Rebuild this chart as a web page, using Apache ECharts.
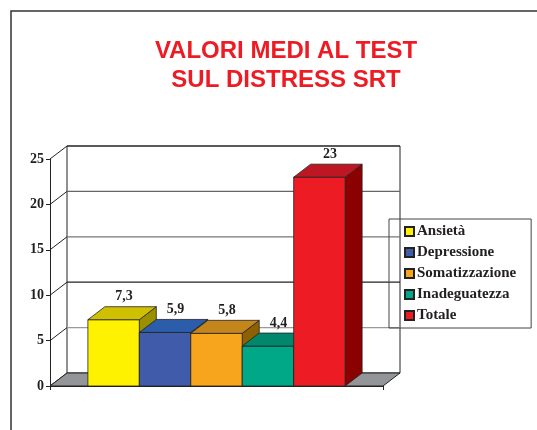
<!DOCTYPE html>
<html>
<head>
<meta charset="utf-8">
<script src="https://cdn.jsdelivr.net/npm/echarts@6/dist/echarts.min.js"></script>
<style>
html,body{margin:0;padding:0;background:#fff;}
#chart{width:537px;height:430px;}
</style>
</head>
<body>
<div id="chart"></div>
<script>
const categories = ['Ansietà', 'Depressione', 'Somatizzazione', 'Inadeguatezza', 'Totale'];
const values = [7.3, 5.9, 5.8, 4.4, 23];
const valueLabels = ['7,3', '5,9', '5,8', '4,4', '23'];
const yTicks = [0, 5, 10, 15, 20, 25];
const frontColors = ['#FFF200', '#3F5BA9', '#F7A51C', '#00A887', '#ED1C24'];
const topColors = ['#CFC000', '#2B5DAA', '#C4861A', '#00876C', '#BE1622'];
const sideColors = ['#9B9000', '#22407F', '#8F6000', '#006E55', '#8B0000'];

const DX = 17, DY = -13;
const gridLineColors = {0: '#222', 5: '#999', 10: '#222', 15: '#777', 20: '#666', 25: '#222'};
const serif = "'Liberation Serif', 'Times New Roman', serif";

const chart = echarts.init(document.getElementById('chart'), null, {renderer: 'canvas'});

function bgRender(params, api) {
  const b0 = api.coord([0, 0]);
  const band = api.size([1, 0])[0];
  const xl = b0[0] - band / 2, xr = b0[0] + band / 2;
  const y0 = b0[1];
  const children = [];
  const yt = api.coord([0, yTicks[yTicks.length - 1]])[1];
  children.push({type: 'rect', shape: {x: xl + DX, y: yt + DY, width: xr - xl, height: y0 - yt},
    style: {fill: '#fff', stroke: '#222', lineWidth: 1}});
  yTicks.forEach(t => {
    const y = api.coord([0, t])[1];
    if (t > 0) {
      children.push({type: 'line', shape: {x1: xl + DX, y1: y + DY, x2: xr + DX, y2: y + DY},
        style: {stroke: gridLineColors[t], lineWidth: 1.2}});
    }
    children.push({type: 'line', shape: {x1: xl, y1: y, x2: xl + DX, y2: y + DY},
      style: {stroke: '#222', lineWidth: 1}});
  });
  children.push({type: 'polygon', shape: {points: [[xl, y0], [xr, y0], [xr + DX, y0 + DY], [xl + DX, y0 + DY]]},
    style: {fill: '#939598', stroke: '#222', lineWidth: 1}});
  return {type: 'group', children: children};
}

function barRender(i) {
  return function (params, api) {
    const base = api.coord([api.value(0), 0]);
    const top = api.coord([api.value(0), api.value(1)]);
    const band = api.size([1, 0])[0];
    const barW = band * 0.1545;
    const x0 = base[0] - 2.5 * barW + i * barW;
    const x1 = x0 + barW;
    const ty = top[1], by = base[1];
    return {type: 'group', children: [
      {type: 'polygon', shape: {points: [[x1, ty], [x1 + DX, ty + DY], [x1 + DX, by + DY], [x1, by]]},
        style: {fill: sideColors[i], stroke: '#222', lineWidth: 0.8}},
      {type: 'rect', shape: {x: x0, y: ty, width: barW, height: by - ty},
        style: {fill: frontColors[i], stroke: '#222', lineWidth: 0.8}},
      {type: 'polygon', shape: {points: [[x0, ty], [x1, ty], [x1 + DX, ty + DY], [x0 + DX, ty + DY]]},
        style: {fill: topColors[i], stroke: '#222', lineWidth: 0.8}},
      {type: 'text', x: (x0 + x1) / 2 + DX / 2 + 2, y: ty + DY - 10,
        style: {text: valueLabels[i], fill: '#231F20', font: "bold 14px " + serif, align: 'center', verticalAlign: 'middle'}}
    ]};
  };
}

const series = [{
  type: 'custom', name: '__bg', silent: true, renderItem: bgRender, data: [[0, 0]], z: 1
}];
categories.forEach((c, i) => {
  series.push({
    type: 'custom', name: c, renderItem: barRender(i), data: [[0, values[i]]],
    itemStyle: {color: frontColors[i], borderColor: '#222', borderWidth: 0.8}, z: 2 + i
  });
});

chart.setOption({
  animation: false,
  backgroundColor: '#fff',
  title: {
    text: 'VALORI MEDI AL TEST\nSUL DISTRESS SRT',
    left: 281, top: 32, textAlign: 'center',
    textStyle: {color: '#ED1C24', fontFamily: "'Liberation Sans', Arial, sans-serif", fontWeight: 'bold', fontSize: 24, lineHeight: 29}
  },
  legend: {
    data: categories,
    orient: 'vertical',
    left: 389, top: 219,
    padding: [5, 15, 5, 15],
    itemGap: 6,
    itemWidth: 9, itemHeight: 9,
    icon: 'rect',
    borderColor: '#444', borderWidth: 1,
    selectedMode: false,
    z: 20,
    textStyle: {fontFamily: serif, fontWeight: 'bold', fontSize: 15, color: '#231F20', padding: [0, 0, 0, -2]}
  },
  grid: {left: 50, right: 154, top: 159, bottom: 44, containLabel: false},
  xAxis: {
    type: 'category', data: [''],
    axisLine: {show: true, lineStyle: {color: '#222', width: 1}},
    axisTick: {show: true, length: 4, lineStyle: {color: '#222'}},
    axisLabel: {show: false},
    splitLine: {show: false}
  },
  yAxis: {
    type: 'value', min: 0, max: 25, interval: 5,
    axisLine: {show: true, lineStyle: {color: '#222', width: 1}},
    axisTick: {show: true, length: 4, lineStyle: {color: '#222'}},
    axisLabel: {fontFamily: serif, fontWeight: 'bold', fontSize: 14, color: '#231F20', margin: 6},
    splitLine: {show: false}
  },
  graphic: [{
    type: 'polyline', silent: true, z: 100,
    shape: {points: [[11, 430], [11, 11], [537, 11]]},
    style: {stroke: '#333', lineWidth: 1.5, fill: null}
  }],
  series: series
});
</script>
</body>
</html>
